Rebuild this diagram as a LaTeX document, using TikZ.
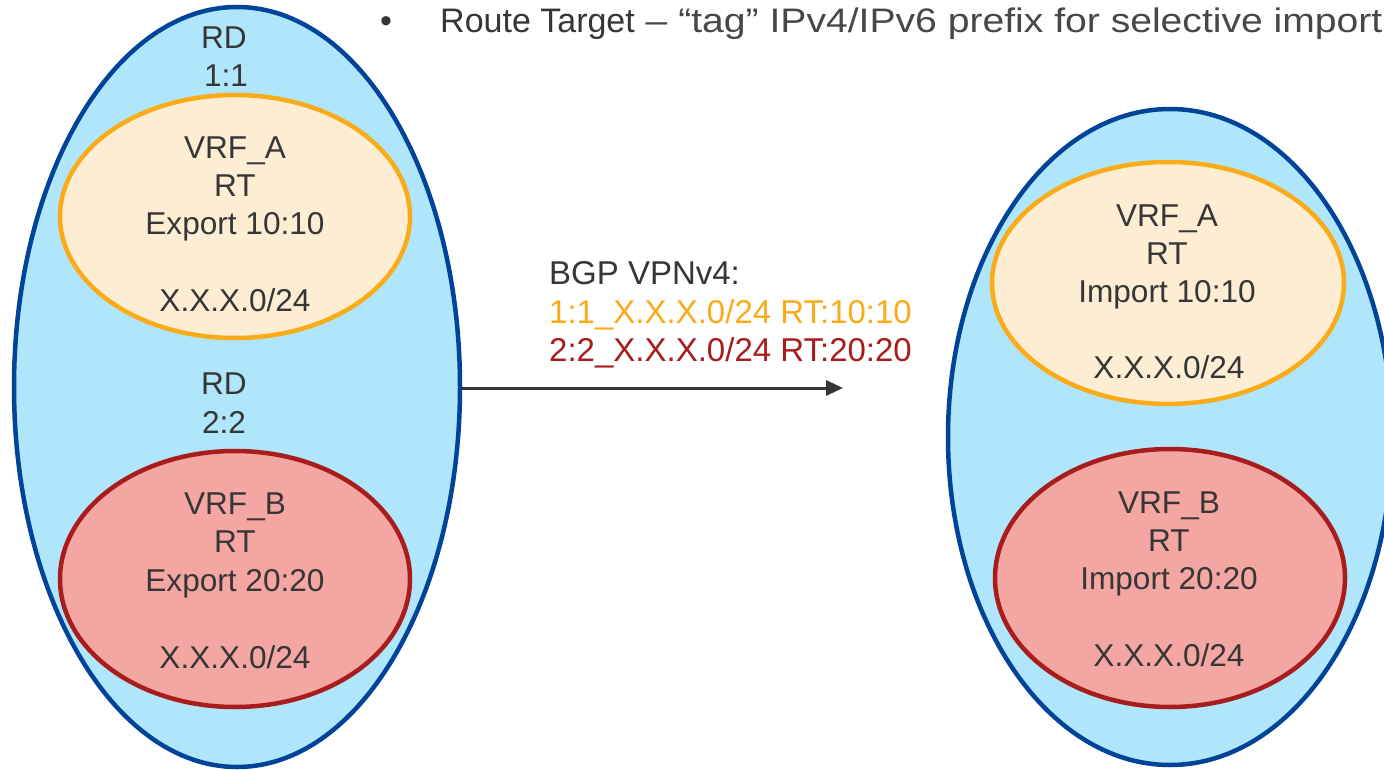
\documentclass[tikz,border=0pt]{standalone}
\usepackage{fontspec}
\setmainfont{Liberation Sans}
\newfontfamily\widefont[FakeStretch=1.15]{Liberation Sans}
\usetikzlibrary{shapes.geometric,arrows.meta}

\definecolor{vpnfill}{HTML}{AFE6FC}
\definecolor{vpnline}{HTML}{00449A}
\definecolor{vrfaline}{HTML}{FBAB18}
\definecolor{vrfafill}{HTML}{FDEDD3}
\definecolor{vrfbline}{HTML}{A81C1C}
\definecolor{vrfbfill}{HTML}{F4A6A2}
\definecolor{ink}{HTML}{363636}
\definecolor{softink}{HTML}{474747}

\tikzset{
  pe/.style={ellipse, draw=vpnline, fill=vpnfill, line width=4.5pt, inner sep=0pt},
  vrfa/.style={ellipse, draw=vrfaline, fill=vrfafill, line width=4.5pt, inner sep=0pt},
  vrfb/.style={ellipse, draw=vrfbline, fill=vrfbfill, line width=4.5pt, inner sep=0pt},
  lbl/.style={anchor=base, inner sep=0pt, text=ink,
    font=\fontsize{31.6}{38}\selectfont},
  bgp/.style={anchor=base west, inner sep=0pt,
    font=\fontsize{33}{38}\selectfont},
  flow/.style={draw=ink, line width=3pt, -{Triangle[length=17pt,width=15pt]}}
}

\begin{document}
\begin{tikzpicture}[x=1pt,y=-1pt]
\clip (0,0) rectangle (1384,770);
\fill[white] (0,0) rectangle (1384,770);

% heading bullet
\node[anchor=base, inner sep=0pt, text=ink, font=\fontsize{34}{40}\selectfont]
  (bullet) at (386,33) {•};
\node[anchor=base west, inner sep=0pt, text=ink, font=\fontsize{34}{40}\selectfont]
  (heading) at (440,33) {Route Target\widefont\color{softink}{} – “tag” IPv4/IPv6 prefix for selective import};

% left PE
\node[pe, minimum width=446pt, minimum height=760pt] (peL) at (237,387) {};
\node[vrfa, minimum width=350pt, minimum height=243pt] (aL) at (235,216.5) {};
\node[vrfb, minimum width=350pt, minimum height=256pt] (bL) at (235,579) {};

\node[lbl] (rd1) at (224,49) {RD};
\node[lbl] (rd1v) at (226,87) {1:1};
\node[lbl] (aLn) at (235,159) {VRF\_A};
\node[lbl] (aLrt) at (235,197) {RT};
\node[lbl] (aLex) at (235,235) {Export 10:10};
\node[lbl] (aLp) at (235,311) {X.X.X.0/24};
\node[lbl] (rd2) at (224,394) {RD};
\node[lbl] (rd2v) at (224,433) {2:2};
\node[lbl] (bLn) at (235,514) {VRF\_B};
\node[lbl] (bLrt) at (235,552) {RT};
\node[lbl] (bLex) at (235,591) {Export 20:20};
\node[lbl] (bLp) at (235,668) {X.X.X.0/24};

% right PE
\node[pe, minimum width=444pt, minimum height=656pt] (peR) at (1170,437) {};
\node[vrfa, minimum width=352pt, minimum height=242pt] (aR) at (1168,283) {};
\node[vrfb, minimum width=350pt, minimum height=258pt] (bR) at (1170,578) {};

\node[lbl] (aRn) at (1167,226) {VRF\_A};
\node[lbl] (aRrt) at (1167,264) {RT};
\node[lbl] (aRim) at (1167,302) {Import 10:10};
\node[lbl] (aRp) at (1169,378) {X.X.X.0/24};
\node[lbl] (bRn) at (1169,513) {VRF\_B};
\node[lbl] (bRrt) at (1169,551) {RT};
\node[lbl] (bRim) at (1169,589) {Import 20:20};
\node[lbl] (bRp) at (1169,666) {X.X.X.0/24};

% BGP advertisement
\coordinate (adv) at (843,388);
\draw[flow] (peL.east |- adv) -- (adv);
\node[bgp, text=ink] (bgph) at (549,284) {BGP VPNv4:};
\node[bgp, text=vrfaline] (bgpa) at (549,323) {1:1\_X.X.X.0/24 RT:10:10};
\node[bgp, text=vrfbline] (bgpb) at (549,361) {2:2\_X.X.X.0/24 RT:20:20};
\end{tikzpicture}
\end{document}
